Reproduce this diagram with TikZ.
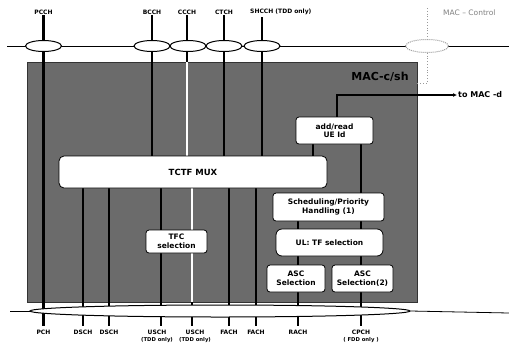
\documentclass[tikz,border=0pt]{standalone}
\usepackage{fontspec}
\setmainfont{DejaVu Sans}
\usetikzlibrary{shapes.geometric,arrows.meta}
\pgfdeclarelayer{back}
\pgfdeclarelayer{mid}
\pgfsetlayers{back,mid,main}
\newcommand{\smalllabfont}{\fontsize{5.3}{6}\selectfont}
\begin{document}
\begin{tikzpicture}[x=1pt,y=-1pt,
  chan/.style={line width=2.2pt},
  hline/.style={line width=0.8pt},
  topell/.style={ellipse,draw,line width=1pt,fill=white,minimum width=36pt,minimum height=11pt,inner sep=0pt},
  fbox/.style={draw,line width=0.8pt,fill=white,rounded corners=3pt,inner sep=1pt,align=center,font=\fontsize{7.5}{8.5}\selectfont\bfseries},
  clab/.style={font=\fontsize{6}{7}\selectfont\bfseries,inner sep=1pt,align=center}
]
\useasboundingbox (0,0) rectangle (509,349);

% MAC-c/sh entity
\begin{pgfonlayer}{back}
\node[draw=black!80,fill=black!58,line width=0.6pt,minimum width=390pt,minimum height=240pt,inner sep=0pt] (mac) at (222,182) {};
\end{pgfonlayer}
\node[font=\fontsize{11}{12}\selectfont\bfseries] (maclab) at (380,77) {MAC-c/sh};

% top labels
\node[clab] (pcchL) at (43.5,12) {PCCH};
\node[clab] (bcchL) at (152,12) {BCCH};
\node[clab] (ccchL) at (187,12) {CCCH};
\node[clab] (ctchL) at (224,12) {CTCH};
\node[clab,anchor=west] (shcchL) at (249,12) {SHCCH (TDD only)};
\coordinate (shTop) at (262,17);
\node[font=\fontsize{7.5}{8}\selectfont,text=black!50,anchor=west,inner sep=1pt] (mcL) at (442,13) {MAC – Control};

% bottom labels
\node[clab,anchor=north] (pchL) at (43.5,329) {PCH};
\node[clab,anchor=north] (dsch1L) at (83,329) {DSCH};
\node[clab,anchor=north] (dsch2L) at (109,329) {DSCH};
\node[clab,anchor=north] (usch1L) at (157,329) {USCH\\{\smalllabfont (TDD only)}};
\node[clab,anchor=north] (usch2L) at (195,329) {USCH\\{\smalllabfont (TDD only)}};
\node[clab,anchor=north] (fach1L) at (229,329) {FACH};
\node[clab,anchor=north] (fach2L) at (256,329) {FACH};
\node[clab,anchor=north] (rachL) at (298,329) {RACH};
\node[clab,anchor=north] (cpchL) at (361,329) {CPCH\\{\smalllabfont ( FDD only )}};
\coordinate (u1) at ([xshift=4pt,yshift=3pt]usch1L.north);
\coordinate (u2) at ([xshift=-3pt,yshift=3pt]usch2L.north);

% function boxes
\node[fbox,minimum width=268pt,minimum height=32pt,rounded corners=5pt,font=\fontsize{8.5}{9.5}\selectfont\bfseries] (mux) at (193,172) {TCTF MUX};
\node[fbox,minimum width=77pt,minimum height=27pt] (ar) at (334.5,130.5) {add/read\\UE Id};
\node[fbox,minimum width=111pt,minimum height=28pt] (sched) at (328.5,207) {Scheduling/Priority\\Handling (1)};
\node[fbox,minimum width=107pt,minimum height=27pt,rounded corners=6pt] (ultf) at (329.5,242.5) {UL: TF selection};
\node[fbox,minimum width=58pt,minimum height=27pt] (asc1) at (296,278.5) {ASC\\Selection};
\node[fbox,minimum width=61pt,minimum height=27pt] (asc2) at (362.5,278.5) {ASC\\Selection(2)};
\node[fbox,minimum width=61pt,minimum height=23pt] (tfc) at (176.5,241.5) {TFC\\selection};

% channel ellipses
\node[topell] (ePCCH) at (43.5,46) {};
\node[topell] (eBCCH) at (152,46) {};
\node[topell] (eCCCH) at (188,46) {};
\node[topell] (eCTCH) at (224,46) {};
\node[topell] (eSHCCH) at (262,46) {};
\node[topell,draw=black!40,dash pattern=on 1pt off 1pt,minimum width=43pt,minimum height=13pt] (eMC) at (427,46) {};
\node[ellipse,draw,line width=1pt,fill=white,minimum width=380pt,minimum height=12pt,inner sep=0pt] (bell) at (220,311) {};

\coordinate (tl) at (7,46);
\coordinate (tr) at (509,46);
\coordinate (bl) at (10,311);
\coordinate (br) at (509,313);
\coordinate (mcTop) at (427,8);
\coordinate (mcCorner) at (427,83);
\coordinate (toMAC) at (457,95);

\begin{pgfonlayer}{mid}
\draw[hline] (tl) -- (tr);
\draw[hline] (bl) -- (bell.west);
\draw[hline] (bell.east) -- (br);
\draw[line width=0.8pt,black!40,dotted] (mcTop) -- (mcCorner) -- (mcCorner -| mac.east);
% logical channels down to TCTF MUX
\draw[chan] (pcchL.south) -- ([yshift=3pt]pchL.north);
\draw[chan] (bcchL.south) -- (bcchL.south |- mux.north);
\draw[chan] (ccchL.south) -- (ccchL.south |- mux.north);
\draw[chan] (ctchL.south) -- (ctchL.south |- mux.north);
\draw[chan] (shTop) -- (shTop |- mux.north);
% transport channels from TCTF MUX
\draw[chan] (mux.south -| dsch1L.north) -- ([yshift=3pt]dsch1L.north);
\draw[chan] (mux.south -| dsch2L.north) -- ([yshift=3pt]dsch2L.north);
\draw[chan] (mux.south -| u1) -- (u1);
\draw[chan] (mux.south -| u2) -- (u2);
\draw[chan] (mux.south -| fach1L.north) -- ([yshift=3pt]fach1L.north);
\draw[chan] (mux.south -| fach2L.north) -- ([yshift=3pt]fach2L.north);
\draw[chan] (sched.south -| rachL.north) -- ([yshift=3pt]rachL.north);
\draw[chan] (ar.south -| cpchL.north) -- ([yshift=3pt]cpchL.north);
\draw[chan] ([xshift=-21.5pt]ar.south) -- ([xshift=-21.5pt]ar.south |- mux.north);
% light traces inside the entity
\draw[line width=1.4pt,white] (ccchL.south |- mac.north) -- (ccchL.south |- mux.north);
\draw[line width=1.4pt,white] (mux.south -| u2) -- (u2 |- mac.south);
% to MAC-d
\draw[line width=1.6pt,-{Latex[length=4pt,width=4pt]}] ([xshift=2.5pt]ar.north) |- (toMAC);
\end{pgfonlayer}
\node[font=\fontsize{8}{9}\selectfont\bfseries,anchor=west,inner sep=1pt] (toL) at (toMAC) {to MAC -d};
\end{tikzpicture}
\end{document}
